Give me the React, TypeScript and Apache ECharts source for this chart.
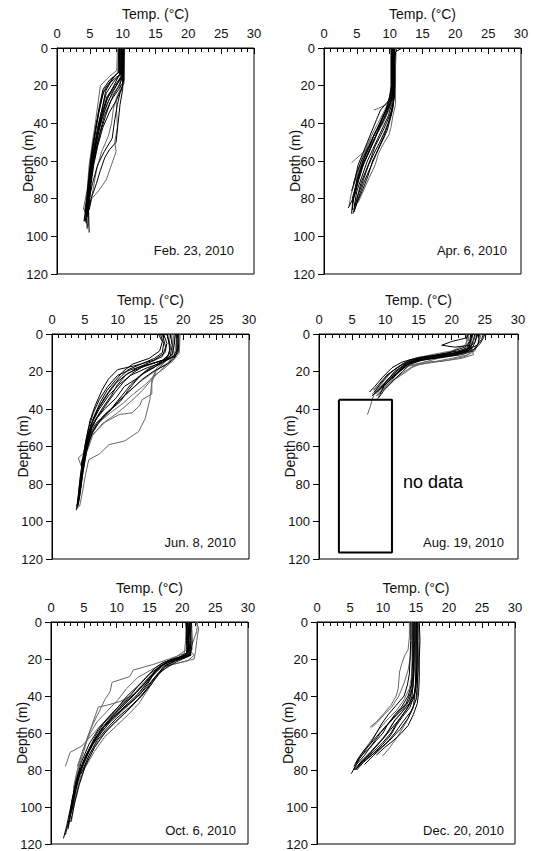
import React, { useEffect, useRef } from "react";
import * as echarts from "echarts";

// Each profile: list of [depth (m), temperature (°C)]
const feb23: number[][][] = [
  [[0,9.6],[12,9.6],[16,8.5],[22,7.2],[30,6.6],[40,6.0],[50,5.6],[60,5.2],[70,4.9],[80,4.6],[88,4.4]],
  [[0,9.8],[14,9.7],[18,8.6],[24,7.5],[32,6.9],[42,6.2],[55,5.5],[65,5.1],[78,4.8],[90,4.5]],
  [[0,10.1],[15,10.0],[20,9.0],[26,7.8],[35,6.8],[45,6.2],[58,5.4],[70,5.0],[82,4.7],[93,4.4]],
  [[0,10.2],[18,10.1],[22,9.4],[28,8.2],[36,7.2],[48,6.3],[60,5.6],[72,5.1],[85,4.8],[98,4.9]],
  [[0,9.2],[12,9.1],[15,8.0],[20,6.6],[28,6.3],[38,5.9],[50,5.4],[62,4.9],[75,4.6],[86,4.0]],
  [[0,9.9],[16,9.9],[20,9.5],[25,8.6],[30,8.0],[36,7.4],[45,6.6],[55,5.9],[65,5.3],[75,4.9],[85,4.4],[92,4.1]],
  [[0,10.0],[20,10.0],[24,9.6],[30,9.2],[38,8.8],[48,8.4],[55,7.2],[62,6.2],[72,5.4],[80,4.9],[88,4.6]],
  [[0,10.1],[22,10.0],[30,9.6],[40,9.3],[50,9.0],[54,8.0],[58,7.3],[65,6.6],[72,6.0],[80,5.2],[86,4.9]],
  [[0,9.7],[22,9.6],[28,9.0],[35,9.1],[42,9.2],[50,8.8],[55,9.0],[62,8.3],[70,7.5],[76,6.3],[80,5.3],[84,5.0]],
  [[0,9.4],[13,9.3],[17,8.3],[23,7.4],[30,7.0],[40,6.4],[50,5.9],[60,5.5],[70,5.2],[82,4.8],[95,4.7]],
  [[0,10.3],[19,10.2],[25,9.2],[32,8.6],[40,8.3],[47,7.8],[55,6.8],[65,6.0],[75,5.5],[82,5.1]],
  [[0,9.5],[14,9.5],[19,8.8],[27,7.6],[36,6.9],[46,6.2],[56,5.7],[68,5.2],[80,4.8],[92,4.3]],
  [[0,9.6],[14,9.6],[18,8.2],[24,7.0],[34,6.4],[44,5.9],[54,5.4],[64,5.0],[76,4.7],[86,4.4],[92,4.2]],
  [[0,9.9],[15,9.8],[20,8.8],[26,7.6],[34,6.9],[44,6.3],[54,5.7],[66,5.2],[78,4.8],[90,4.5],[96,4.6]],
  [[0,10.0],[16,10.0],[21,9.2],[27,8.0],[34,7.2],[42,6.5],[52,5.9],[62,5.4],[74,5.0],[84,4.7]],
  [[0,9.5],[13,9.4],[17,8.0],[22,7.0],[30,6.5],[40,6.0],[50,5.5],[60,5.1],[70,4.8],[80,4.5],[87,4.2]],
  [[0,10.2],[17,10.2],[22,9.8],[28,9.0],[34,8.0],[42,7.0],[52,6.2],[62,5.6],[72,5.2],[84,4.9],[90,4.6]],
  [[0,9.8],[15,9.8],[19,9.2],[24,8.4],[30,7.6],[38,6.8],[48,6.1],[58,5.6],[70,5.1],[82,4.6],[88,4.3]],
];
const feb23Gray = [4, 8, 10, 14];

const apr6: number[][][] = [
  [[0,10.4],[10,10.4],[20,10.4],[26,10.2],[32,9.6],[38,8.8],[45,7.8],[52,6.9],[60,5.9],[70,5.0],[80,4.4],[88,4.2]],
  [[0,10.6],[15,10.6],[24,10.5],[30,10.1],[36,9.4],[42,8.5],[48,7.7],[55,6.9],[62,6.0],[70,5.3],[78,4.7],[85,3.7]],
  [[0,10.8],[20,10.8],[28,10.6],[34,10.2],[40,9.5],[46,8.7],[52,7.8],[58,7.2],[65,6.4],[72,5.6],[80,5.0],[86,4.5]],
  [[0,11.0],[10,10.9],[30,10.9],[36,10.5],[42,10.2],[46,9.9],[50,9.2],[56,8.3],[62,7.8],[68,7.0],[75,6.1],[82,5.2]],
  [[0,10.3],[22,10.3],[28,9.8],[33,8.6],[38,8.0],[44,7.3],[50,6.6],[56,5.9],[62,5.2],[70,4.7],[76,4.2]],
  [[0,10.5],[25,10.4],[30,9.5],[32,8.3],[33,7.6]],
  [[0,10.6],[25,10.5],[32,10.0],[40,9.0],[46,8.0],[52,7.0],[56,5.8],[59,4.8],[61,4.2]],
  [[0,10.7],[25,10.7],[32,10.4],[40,9.8],[47,9.1],[54,8.2],[60,7.4],[68,6.7],[76,5.8],[84,4.8],[88,4.4]],
  [[0,10.2],[20,10.2],[26,10.0],[34,9.3],[40,8.6],[46,7.6],[52,7.0],[58,6.2],[66,5.4],[74,4.8],[80,4.3]],
  [[0,11.9],[2,10.9],[10,10.7],[27,10.6],[35,10.3],[44,9.6],[50,8.8],[56,8.0],[64,7.0],[72,6.0],[80,5.2],[87,4.6]],
  [[0,10.5],[24,10.5],[30,10.0],[36,9.0],[42,8.2],[48,7.4],[54,6.5],[60,5.7],[66,5.0],[72,4.5]],
  [[0,10.4],[26,10.4],[32,9.9],[38,9.2],[44,8.3],[48,7.2],[52,6.6],[58,6.2],[64,5.4],[70,4.8],[78,4.1],[84,3.8]],
  [[0,10.5],[22,10.5],[28,10.2],[34,9.5],[40,8.8],[46,8.0],[52,7.2],[58,6.4],[64,5.7],[72,5.0],[80,4.5],[86,4.3]],
  [[0,10.6],[24,10.6],[30,10.3],[36,9.8],[42,9.0],[48,8.2],[54,7.4],[60,6.6],[68,5.8],[76,5.0],[84,4.6]],
  [[0,10.3],[22,10.3],[28,10.0],[34,9.1],[40,8.2],[46,7.3],[52,6.5],[58,5.8],[64,5.3],[70,4.9]],
  [[0,10.7],[26,10.7],[32,10.5],[38,10.0],[44,9.3],[50,8.5],[56,7.6],[62,6.8],[70,6.0],[78,5.2],[84,4.7]],
  [[0,10.4],[24,10.4],[30,9.8],[36,9.0],[42,8.4],[48,7.8],[54,7.0],[60,6.2],[66,5.5],[74,4.9],[82,4.4]],
];
const apr6Gray = [3, 5, 6, 11, 14];

const jun8: number[][][] = [
  [[0,19.3],[5,19.3],[10,19.2],[13,18.0],[16,15.0],[19,12.0],[22,10.0],[28,8.5],[35,7.2],[42,6.3],[50,5.6],[60,5.0],[70,4.6],[80,4.2],[90,3.9],[94,3.7]],
  [[0,19.0],[8,19.1],[12,18.5],[15,17.0],[18,14.5],[22,12.0],[27,10.2],[33,8.6],[40,7.2],[48,6.0],[58,5.3],[68,4.8],[78,4.4],[88,4.1]],
  [[0,17.0],[5,17.5],[10,17.2],[14,15.5],[17,12.5],[19,10.0],[24,8.6],[30,7.6],[38,6.6],[46,5.8],[56,5.2],[66,4.7],[76,4.3],[86,4.0],[92,3.8]],
  [[0,18.0],[6,18.3],[12,18.0],[16,16.5],[20,14.2],[24,12.8],[28,11.0],[34,9.8],[40,8.0],[45,6.8],[52,5.8],[62,5.1],[72,4.7],[82,4.3],[90,4.0]],
  [[0,16.2],[4,16.8],[9,16.4],[13,14.8],[16,12.3],[20,10.8],[25,9.6],[30,8.4],[36,7.4],[44,6.4],[52,5.6],[62,5.0],[72,4.5]],
  [[0,19.5],[10,19.4],[14,18.5],[18,17.2],[22,15.6],[27,14.2],[32,12.4],[37,10.8],[42,8.9],[47,7.2],[53,6.0],[60,5.3],[70,4.8],[80,4.4]],
  [[0,18.5],[10,18.4],[14,17.5],[18,16.0],[24,15.2],[32,15.2],[35,13.7],[38,13.4],[42,12.2],[43,10.2],[47,8.1],[54,6.1],[57,5.6],[65,5.0],[75,4.6]],
  [[0,17.8],[10,17.9],[15,17.2],[20,15.8],[26,15.2],[35,14.9],[45,14.2],[52,13.2],[57,11.1],[59,8.7],[64,7.2],[67,5.6],[75,5.1],[85,4.6],[92,4.2]],
  [[0,17.5],[8,18.0],[12,17.6],[15,16.5],[19,14.5],[24,13.0],[30,11.6],[36,10.4],[42,8.4],[48,6.6],[55,5.6],[65,5.0],[75,4.6],[85,4.2]],
  [[0,18.8],[6,18.6],[11,18.3],[14,17.0],[18,15.5],[22,13.5],[27,12.0],[33,10.6],[40,9.0],[46,7.4],[52,6.2],[60,5.4],[68,4.5],[75,4.6],[85,4.3],[93,3.9]],
  [[0,16.8],[7,17.3],[12,16.8],[15,15.0],[18,13.0],[22,11.2],[27,10.0],[33,9.0],[40,7.6],[48,6.2],[58,5.4]],
  [[0,18.2],[10,18.5],[15,17.8],[20,16.4],[25,15.0],[30,13.8],[36,12.0],[42,10.0],[48,7.6],[54,6.2],[62,5.4],[66,4.0],[72,4.6],[82,4.3]],
  [[0,19.2],[8,19.2],[12,18.8],[15,16.0],[18,13.5],[21,11.5],[26,9.8],[32,8.5],[40,7.0],[48,6.0],[56,5.4],[66,4.9],[76,4.5],[86,4.1],[92,3.8]],
  [[0,17.5],[6,18.0],[11,17.8],[14,16.8],[17,14.0],[21,12.2],[26,10.8],[32,9.4],[38,8.2],[44,7.0],[50,6.0],[60,5.3],[70,4.8]],
  [[0,18.6],[8,18.8],[12,18.6],[15,17.8],[18,16.5],[22,14.8],[26,13.2],[31,11.6],[36,10.0],[42,8.6],[48,7.0],[54,6.0],[62,5.3],[72,4.8],[82,4.4]],
  [[0,16.5],[5,17.0],[10,16.8],[13,15.6],[16,13.6],[19,11.6],[23,10.4],[28,9.2],[34,8.0],[40,7.0],[46,6.2],[54,5.5]],
  [[0,19.0],[10,19.0],[13,18.6],[16,17.6],[20,15.4],[24,13.8],[28,12.6],[33,11.0],[38,9.6],[43,8.0],[48,6.8],[55,5.8],[64,5.2],[74,4.7],[84,4.3],[90,4.0]],
];
const jun8Gray = [5, 6, 7, 11, 14];

const aug19: number[][][] = [
  [[0,22.3],[3,22.4],[6,22.0],[9,20.0],[11,17.0],[13,14.5],[16,12.5],[20,11.0],[25,9.8],[30,8.6],[35,8.0],[38,7.8],[43,7.3]],
  [[0,24.8],[3,24.5],[6,23.8],[9,22.0],[11,19.0],[12.5,16.0],[14,14.0],[17,12.2],[21,10.6],[26,9.4],[31,8.3]],
  [[0,22.5],[2,22.3],[4,20.0],[6,18.5],[7,20.5],[6,22.8],[9,22.5],[11,20.5],[13,17.0],[14,14.5],[17,13.0],[22,11.5],[27,10.0],[30,9.0]],
  [[0,23.5],[4,23.2],[8,22.8],[10,21.5],[12,18.5],[14,15.5],[16,13.2],[20,12.0],[24,10.8],[28,9.6],[32,8.5]],
  [[0,24.5],[5,24.0],[9,23.5],[11,22.5],[13,20.0],[15,17.0],[17,14.2],[21,12.5],[25,11.0],[29,9.8],[33,8.8]],
  [[0,23.0],[5,22.8],[8,22.5],[10,20.5],[11.5,17.5],[13,15.0],[15,13.8],[19,12.3],[23,11.0],[28,9.8],[32,9.2]],
  [[0,22.2],[6,22.3],[10,22.8],[12,22.0],[14,19.5],[15.5,16.5],[17,13.5],[20,12.0],[24,10.5],[29,9.0],[32,8.0]],
  [[0,24.0],[4,23.5],[7,22.8],[9,21.0],[11,18.0],[12.5,15.0],[14,13.5],[18,11.8],[22,10.2],[27,9.0],[30,8.2]],
  [[0,22.6],[4,22.5],[8,23.0],[11,23.3],[13,21.5],[14.5,18.5],[15,16.0],[17,13.0],[21,11.2],[26,10.0],[30,9.4],[33,8.6]],
  [[0,23.2],[3,23.0],[7,22.0],[10,19.5],[12,16.5],[13.5,14.0],[15,12.5],[18,11.0],[23,9.6],[28,8.4],[31,7.6]],
  [[0,25.0],[2,24.8],[5,24.3],[8,23.5],[10,22.0],[12,19.0],[13.5,15.5],[16,13.5],[20,12.2],[24,11.0]],
  [[0,22.8],[5,23.0],[9,22.5],[11,21.0],[13,18.0],[15,15.8],[18,14.0],[22,12.4],[26,10.5],[31,9.3],[35,8.8]],
  [[0,23.8],[4,23.6],[8,23.0],[10,21.0],[11.5,18.0],[13,15.2],[15,13.5],[19,12.0],[24,10.4],[29,9.2],[33,8.0]],
  [[0,24.2],[5,24.0],[9,23.2],[11,21.5],[12.5,18.5],[14,15.5],[16,13.8],[20,12.6],[25,11.2],[30,9.8],[34,9.0]],
  [[0,22.9],[4,22.7],[8,22.4],[10,20.8],[12,17.8],[13.5,15.2],[16,13.0],[20,11.4],[26,10.0],[31,8.8]],
  [[0,23.6],[3,23.4],[6,22.6],[9,21.5],[11,19.5],[12.5,17.0],[14,15.0],[17,13.2],[21,11.8],[26,10.6],[30,9.6]],
];
const aug19Gray = [0, 4, 6, 8, 11, 15];
// "no data" box: [depth, temp] corners
const aug19NoData: number[][] = [[35,3],[35,11],[116.5,11],[116.5,3],[35,3]];

const oct6: number[][][] = [
  [[0,20.5],[5,20.7],[10,20.6],[15,20.8],[18,20.5],[20,18.5],[22,17.0],[25,15.8],[30,14.5],[35,13.2],[40,12.0],[45,10.5],[50,9.2],[55,8.0],[60,7.0],[70,5.6],[80,4.4],[90,3.6],[100,3.0],[110,2.4],[117,1.9]],
  [[0,20.8],[8,20.9],[16,21.0],[19,19.5],[22,17.5],[26,16.0],[32,14.6],[38,13.0],[44,11.0],[50,9.6],[56,8.2],[62,6.9],[72,5.3],[82,4.2],[92,3.6],[102,3.1],[112,2.6]],
  [[0,22.0],[3,22.5],[10,22.2],[16,22.0],[20,21.8],[22,19.5],[24,17.5],[28,16.3],[34,15.2],[40,13.8],[46,12.2],[52,10.5],[58,8.6],[64,7.2],[72,5.8],[82,4.6],[95,3.7],[108,3.1]],
  [[0,21.2],[10,21.0],[17,21.2],[19,20.0],[21,18.0],[24,16.5],[28,15.5],[34,14.0],[40,12.5],[46,10.8],[52,9.0],[58,7.6],[65,6.4],[75,5.0],[85,4.0],[95,3.4],[105,2.9]],
  [[0,20.6],[10,20.5],[17,20.3],[20,18.0],[23,15.5],[25,13.5],[26,12.5],[29.5,12.0],[32.6,9.3],[37.6,9.0],[42,8.2],[48,7.4],[55,6.4],[62,5.6],[70,4.8],[80,4.0],[90,3.4]],
  [[0,21.0],[8,21.3],[15,21.5],[18,20.5],[21,18.5],[24,16.8],[30,15.2],[36,13.6],[40,12.2],[43,10.5],[45,8.5],[46,7.2],[50,6.8],[56,6.2],[62,5.6],[70,5.0],[80,4.1],[92,3.4]],
  [[0,20.9],[10,21.0],[18,20.7],[21,18.0],[25,16.2],[32,14.3],[40,12.4],[48,10.0],[55,7.8],[62,6.0],[67,4.7],[70.5,2.9],[78,2.2]],
  [[0,21.4],[12,21.5],[18,21.2],[21,18.8],[24,17.2],[30,15.8],[36,14.6],[42,13.2],[48,11.6],[54,9.8],[60,8.2],[68,6.6],[78,5.2],[88,4.3],[98,3.6],[108,3.0]],
  [[0,22.3],[5,22.2],[12,21.5],[14,20.8],[18,21.8],[21,20.8],[23,18.5],[26,17.0],[32,15.6],[38,14.5],[44,13.4],[50,11.8],[56,10.0],[62,8.2],[70,6.6],[80,5.0],[90,4.0],[100,3.4]],
  [[0,20.7],[10,20.8],[18,20.6],[21,18.2],[24,16.6],[28,15.0],[34,13.4],[40,11.6],[46,10.2],[52,8.6],[58,7.2],[66,5.8],[76,4.6],[86,3.8],[96,3.2],[106,2.8],[115,2.2]],
  [[0,21.0],[10,20.9],[18,21.0],[20,19.2],[23,17.0],[27,15.8],[33,14.8],[39,13.6],[45,11.6],[51,9.6],[57,8.0],[64,6.6],[72,5.4],[82,4.3],[92,3.7],[102,3.2]],
  [[0,20.6],[15,20.6],[19,19.0],[22,17.2],[26,15.2],[30,13.2],[36,11.5],[42,10.2],[48,8.6],[54,7.0],[60,6.0],[68,5.0],[78,4.0]],
  [[0,20.7],[10,20.7],[17,20.8],[20,19.0],[23,17.2],[27,15.9],[33,14.6],[39,13.2],[45,11.4],[51,9.6],[57,8.0],[63,6.8],[70,5.8],[80,4.6],[90,3.8],[100,3.2],[110,2.6]],
  [[0,21.1],[10,21.2],[18,21.1],[21,19.0],[24,17.4],[29,16.0],[35,14.6],[41,13.0],[47,11.0],[53,9.2],[59,7.8],[66,6.4],[74,5.2],[84,4.2],[94,3.5],[104,3.0]],
  [[0,20.9],[10,20.9],[18,20.8],[20,19.6],[22,18.0],[26,16.4],[31,15.0],[37,13.8],[43,12.4],[49,10.6],[55,8.8],[61,7.4],[68,6.0],[76,4.9],[86,4.0],[96,3.3],[106,2.8]],
  [[0,21.3],[10,21.2],[18,21.3],[21,19.4],[24,17.8],[28,16.4],[34,15.2],[40,13.8],[46,12.0],[52,10.0],[58,8.4],[64,7.0],[72,5.8],[82,4.6]],
];
const oct6Gray = [2, 4, 5, 6, 8, 11, 14];

const dec20: number[][][] = [
  [[0,14.5],[10,14.5],[20,14.5],[30,14.4],[38,14.2],[44,13.5],[50,12.0],[56,10.5],[62,9.0],[68,7.6],[74,6.4],[78,5.8],[82,5.2]],
  [[0,15.0],[10,15.0],[20,15.0],[30,15.0],[40,14.8],[46,14.6],[52,13.8],[58,12.6],[64,11.0],[70,9.0],[76,6.8],[80,5.8]],
  [[0,15.4],[10,15.5],[20,15.4],[30,15.3],[40,15.2],[45,14.7],[53,13.7],[62,12.2],[68,11.0],[72.6,9.9]],
  [[0,14.0],[8,14.0],[15,13.8],[18,13.3],[22,12.9],[27,12.5],[32,12.4],[36,12.3],[40,12.0],[45,11.2],[50,10.0],[54,9.0],[57,8.0]],
  [[0,14.8],[10,14.8],[20,14.7],[28,14.6],[34,14.3],[40,13.8],[46,12.8],[50,11.8],[55,10.8],[60,9.6],[66,8.4],[72,7.2],[77,6.0],[80,5.5]],
  [[0,15.2],[15,15.2],[25,15.1],[35,15.0],[42,14.5],[48,13.4],[54,12.2],[60,11.2],[65,10.0],[70,8.6],[75,7.0],[78,6.2]],
  [[0,14.3],[10,14.3],[18,14.2],[26,13.8],[33,13.2],[40,12.4],[46,11.3],[50,10.2],[54,9.2],[57,8.3]],
  [[0,14.6],[15,14.6],[25,14.6],[35,14.5],[42,14.0],[47,13.0],[52,11.6],[56,10.6],[60,10.0],[64,9.0],[68,8.0],[72,6.8],[76,6.0]],
  [[0,15.5],[10,15.6],[20,15.5],[30,15.5],[38,15.4],[44,15.2],[50,14.6],[56,13.8],[60,12.8],[64,11.6],[68,10.2],[72,9.0]],
  [[0,14.9],[12,14.9],[24,14.8],[34,14.6],[40,14.2],[45,13.6],[50,12.6],[55,11.4],[60,10.6],[65,9.4],[70,8.2],[75,6.8],[79,6.0]],
  [[0,14.2],[10,14.2],[20,14.1],[28,14.0],[34,13.7],[40,13.2],[45,12.0],[50,10.8],[55,9.8],[60,9.0],[65,8.2],[70,7.0],[74,6.2],[78,5.6]],
  [[0,15.1],[10,15.1],[20,15.2],[30,15.1],[38,14.9],[44,14.0],[49,12.8],[53,11.8],[58,11.0],[63,10.0],[68,8.8],[73,7.6],[77,6.4]],
  [[0,14.7],[12,14.7],[22,14.7],[32,14.6],[40,14.4],[46,13.8],[52,12.6],[58,11.2],[64,9.8],[70,8.2],[75,6.8],[80,5.6]],
  [[0,15.3],[12,15.3],[24,15.3],[34,15.2],[42,15.0],[48,14.3],[54,13.0],[60,11.8],[66,10.4],[72,8.6],[77,7.2]],
  [[0,14.4],[10,14.4],[20,14.4],[30,14.3],[36,14.0],[42,13.2],[48,12.0],[53,10.6],[58,9.4],[63,8.4],[68,7.4],[73,6.4],[77,5.8]],
  [[0,15.0],[12,15.0],[24,15.0],[34,14.9],[40,14.7],[46,14.1],[51,13.0],[56,12.0],[61,11.2],[66,10.0],[71,8.6],[76,7.0],[80,6.0]],
];
const dec20Gray = [2, 3, 6, 9, 14];

const dateLabels = ["Feb. 23, 2010", "Apr. 6, 2010", "Jun. 8, 2010", "Aug. 19, 2010", "Oct. 6, 2010", "Dec. 20, 2010"];
const xAxisName = "Temp. (°C)";
const yAxisName = "Depth (m)";
const noDataText = "no data";

const panelData = [feb23, apr6, jun8, aug19, oct6, dec20];
const panelGray = [feb23Gray, apr6Gray, jun8Gray, aug19Gray, oct6Gray, dec20Gray];

// layout (pixels)
const grids = [
  { left: 57, top: 48, width: 197, height: 226, dateRight: 234, dateY: 250 },
  { left: 324, top: 48, width: 197, height: 226, dateRight: 507, dateY: 250 },
  { left: 52, top: 334, width: 197, height: 225, dateRight: 236, dateY: 542 },
  { left: 319, top: 334, width: 199, height: 225, dateRight: 504, dateY: 542 },
  { left: 51, top: 622, width: 197, height: 222, dateRight: 236, dateY: 830 },
  { left: 317, top: 622, width: 198, height: 222, dateRight: 504, dateY: 830 },
];

const FONT = '"Liberation Sans", Arial, sans-serif';
const TXT = "#111";

export default function App() {
  const ref = useRef<HTMLDivElement>(null);
  useEffect(() => {
    if (!ref.current) return;
    const chart = echarts.init(ref.current, null, { renderer: "svg" });
    const series: any[] = [];
    panelData.forEach((profiles, pi) => {
      profiles.forEach((prof, k) => {
        const gray = panelGray[pi].includes(k);
        series.push({
          type: "line",
          xAxisIndex: pi,
          yAxisIndex: pi,
          data: prof.map((p) => [p[1], p[0]]),
          showSymbol: false,
          symbol: "none",
          silent: true,
          lineStyle: { width: 1, color: gray ? "#666" : "#000" },
          z: gray ? 2 : 3,
        });
      });
    });
    series.push({
      type: "line",
      xAxisIndex: 3,
      yAxisIndex: 3,
      data: aug19NoData.map((p) => [p[1], p[0]]),
      showSymbol: false,
      symbol: "none",
      silent: true,
      lineStyle: { width: 2, color: "#000" },
      z: 4,
    });

    const option: any = {
      animation: false,
      backgroundColor: "#fff",
      grid: grids.map((g) => ({
        left: g.left,
        top: g.top,
        width: g.width,
        height: g.height,
        show: true,
        borderColor: "#000",
        borderWidth: 1,
        backgroundColor: "transparent",
        containLabel: false,
      })),
      xAxis: grids.map((g, i) => ({
        gridIndex: i,
        type: "value",
        position: "top",
        min: 0,
        max: 30,
        interval: 5,
        name: xAxisName,
        nameLocation: "middle",
        nameGap: 27,
        nameMoveOverlap: false,
        nameTextStyle: { fontSize: 14, color: TXT, fontFamily: FONT },
        axisLine: { show: true, lineStyle: { color: "#000", width: 1 } },
        axisTick: { show: true, inside: true, length: 6, lineStyle: { color: "#000", width: 1 } },
        minorTick: { show: true, splitNumber: 5, length: 4, lineStyle: { color: "#000", width: 1 } },
        axisLabel: { margin: 8, fontSize: 13, color: TXT, fontFamily: FONT },
        splitLine: { show: false },
        minorSplitLine: { show: false },
      })),
      yAxis: grids.map((g, i) => ({
        gridIndex: i,
        type: "value",
        inverse: true,
        min: 0,
        max: 120,
        interval: 20,
        name: yAxisName,
        nameLocation: "middle",
        nameGap: 22,
        nameMoveOverlap: false,
        nameRotate: 90,
        nameTextStyle: { fontSize: 14, color: TXT, fontFamily: FONT },
        axisLine: { show: true, lineStyle: { color: "#000", width: 1 } },
        axisTick: { show: true, inside: false, length: 6, lineStyle: { color: "#000", width: 1 } },
        axisLabel: { margin: 9, fontSize: 13, color: TXT, fontFamily: FONT },
        splitLine: { show: false },
      })),
      series,
      graphic: [
        ...grids.map((g, i) => ({
          type: "text",
          x: g.dateRight,
          y: g.dateY,
          style: {
            text: dateLabels[i],
            fontSize: 13,
            fontFamily: FONT,
            fill: TXT,
            align: "right",
            verticalAlign: "middle",
          },
          silent: true,
        })),
        {
          type: "text",
          x: 403,
          y: 482,
          style: {
            text: noDataText,
            fontSize: 18,
            fontFamily: FONT,
            fill: "#000",
            align: "left",
            verticalAlign: "middle",
          },
          silent: true,
        },
      ],
    };
    chart.setOption(option);
    return () => chart.dispose();
  }, []);
  return (
    <div
      ref={ref}
      style={{ position: "absolute", left: 0, top: 0, width: 533, height: 851, background: "#fff" }}
    />
  );
}
